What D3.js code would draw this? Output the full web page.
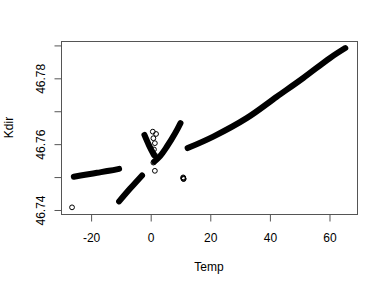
<!DOCTYPE html>
<html>
<head>
<meta charset="utf-8">
<script src="https://cdn.jsdelivr.net/npm/d3@7"></script>
<style>
  body { margin: 0; background: #fff; }
  text { font-family: "Liberation Sans", Arial, sans-serif; font-size: 12px; fill: #000; }
</style>
</head>
<body>
<script>
//values: [Temp, Kdir]
//dense runs of points (drawn as thick bands)
var runLeft = [[-25.8, 46.7501], [-22.0, 46.7507], [-18.0, 46.7513], [-14.0, 46.7519], [-10.6, 46.7525]];
var runRise = [[-10.6, 46.7426], [-6.9, 46.7465], [-2.9, 46.7505]];
var runDown = [[-2.1, 46.7628], [-0.6, 46.7597], [1.1, 46.7567]];
var runV = [[1.2, 46.7547], [3.1, 46.7563], [5.4, 46.7592], [8.2, 46.7633], [10.0, 46.7664]];
var runRight = [[12.4, 46.7588], [21.0, 46.7623], [32.2, 46.7679], [42.3, 46.7744], [51.2, 46.7801], [60.2, 46.7862], [65.3, 46.7892]];
//single points
var loose = [[0.7, 46.7638], [1.8, 46.7631], [0.9, 46.7618], [1.4, 46.7603], [1.1, 46.7584],
             [1.4, 46.7567], [0.9, 46.7544], [1.4, 46.7519],
             [-26.4, 46.7408],
             [10.9, 46.7499], [10.95, 46.7497], [11.0, 46.7495], [11.05, 46.7494]];

var xTicks = [-20, 0, 20, 40, 60];
var yTicks = [46.74, 46.75, 46.76, 46.77, 46.78, 46.79];
var yLabeled = [46.74, 46.76, 46.78];

var width = 383,
    height = 285;
var pLeft = 61, pRight = 357, pTop = 41, pBottom = 214;

var svg = d3.select("body")
    .append("svg")
    .attr("width", width)
    .attr("height", height);

//limits like R's usr for this plot
var x = d3.scaleLinear()
    .domain([-30.1, 69.23])
    .range([pLeft, pRight]);

var y = d3.scaleLinear()
    .domain([46.73878, 46.79134])
    .range([pBottom, pTop]);

var line = d3.line()
    .x(function(d){ return x(d[0]); })
    .y(function(d){ return y(d[1]); })
    .curve(d3.curveCatmullRom);

//bands of overlapping circles
svg.selectAll(".run")
    .data([runLeft, runRise, runDown, runV, runRight])
    .enter()
    .append("path")
    .attr("class", "run")
    .attr("d", line)
    .attr("fill", "none")
    .attr("stroke", "#000")
    .attr("stroke-width", 6)
    .attr("stroke-linecap", "round")
    .attr("stroke-linejoin", "round");

svg.selectAll(".pt")
    .data(loose)
    .enter()
    .append("circle")
    .attr("class", "pt")
    .attr("cx", function(d){ return x(d[0]); })
    .attr("cy", function(d){ return y(d[1]); })
    .attr("r", 2.4)
    .attr("fill", "none")
    .attr("stroke", "#000")
    .attr("stroke-width", 1);

//box
svg.append("rect")
    .attr("x", pLeft + 0.5)
    .attr("y", pTop + 0.5)
    .attr("width", pRight - pLeft)
    .attr("height", pBottom - pTop)
    .attr("fill", "none")
    .attr("stroke", "#555")
    .attr("stroke-width", 1);

//axes
var xAxis = svg.append("g")
    .attr("transform", "translate(0," + (pBottom + 0.5) + ")")
    .call(d3.axisBottom(x).tickValues(xTicks).tickSize(7).tickFormat(function(d){ return String(d); }));

var yAxis = svg.append("g")
    .attr("transform", "translate(" + (pLeft + 0.5) + ",0)")
    .call(d3.axisLeft(y).tickValues(yTicks).tickSize(7).tickFormat(function(d){
        return yLabeled.indexOf(d) >= 0 ? d.toFixed(2) : "";
    }));

[xAxis, yAxis].forEach(function(g){
    g.select(".domain").remove();
    g.selectAll(".tick line").attr("stroke", "#555");
    g.selectAll("text")
        .style("font-family", "'Liberation Sans', Arial, sans-serif")
        .style("font-size", "12px")
        .attr("fill", "#000");
});

xAxis.selectAll("text").attr("dy", null).attr("y", 27);

//rotated y labels, reading upwards
yAxis.selectAll("text")
    .attr("x", null)
    .attr("dy", null)
    .attr("y", null)
    .attr("text-anchor", "middle")
    .attr("transform", "translate(-16.5,0) rotate(-90)");

svg.append("text")
    .attr("x", (pLeft + pRight) / 2)
    .attr("y", 270.5)
    .attr("text-anchor", "middle")
    .text("Temp");

svg.append("text")
    .attr("transform", "translate(13," + ((pTop + pBottom) / 2) + ") rotate(-90)")
    .attr("text-anchor", "middle")
    .text("Kdir");
</script>
</body>
</html>
